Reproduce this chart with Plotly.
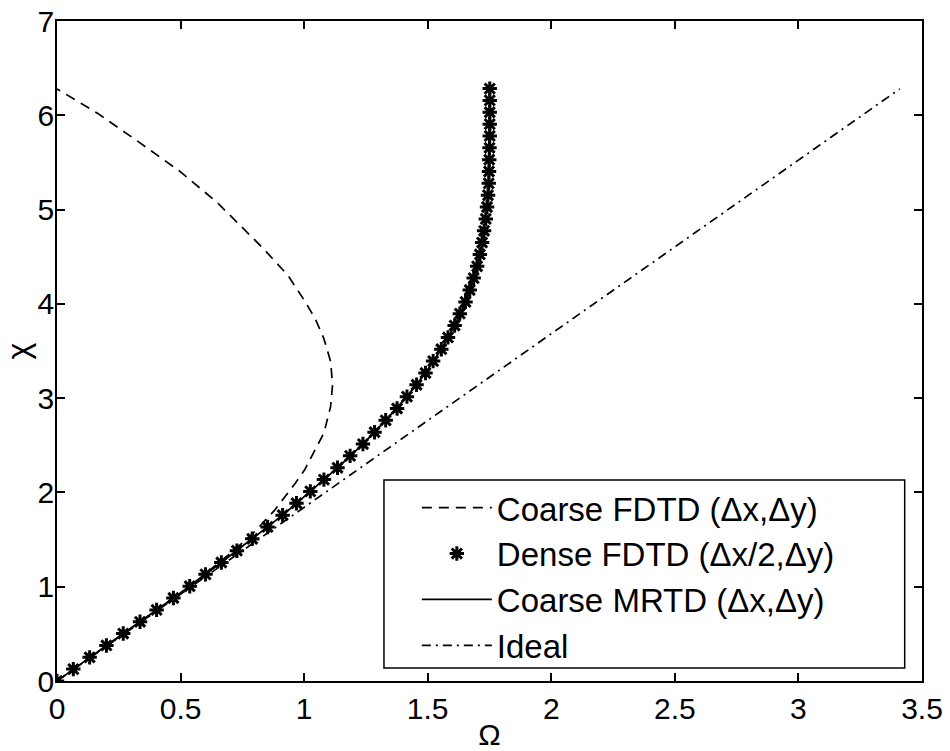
import plotly.graph_objects as go

# ---- data ----
# Dense FDTD (dx/2, dy): chi sampled in 51 steps from 0 to 2*pi
dense_chi = [0.000, 0.126, 0.251, 0.377, 0.503, 0.628, 0.754, 0.880, 1.005, 1.131,
             1.257, 1.382, 1.508, 1.634, 1.759, 1.885, 2.011, 2.136, 2.262, 2.388,
             2.513, 2.639, 2.765, 2.890, 3.016, 3.142, 3.267, 3.393, 3.519, 3.644,
             3.770, 3.896, 4.021, 4.147, 4.273, 4.398, 4.524, 4.650, 4.775, 4.901,
             5.027, 5.152, 5.278, 5.404, 5.529, 5.655, 5.781, 5.906, 6.032, 6.158,
             6.283]
dense_omega = [0.000, 0.066, 0.132, 0.200, 0.268, 0.336, 0.403, 0.471, 0.537, 0.601,
               0.665, 0.728, 0.790, 0.852, 0.913, 0.969, 1.025, 1.080, 1.135, 1.186,
               1.238, 1.285, 1.330, 1.376, 1.416, 1.455, 1.491, 1.522, 1.555, 1.582,
               1.609, 1.630, 1.653, 1.670, 1.686, 1.700, 1.711, 1.720, 1.728, 1.735,
               1.740, 1.744, 1.747, 1.748, 1.749, 1.750, 1.751, 1.751, 1.751, 1.751,
               1.751]

# Coarse MRTD (dx, dy): runs through the dense FDTD points
mrtd_chi = [0.000, 0.251, 0.503, 0.754, 1.005, 1.257, 1.508, 1.759, 2.011, 2.262,
            2.513, 2.765, 3.016, 3.267, 3.519, 3.770, 4.021, 4.273, 4.524, 4.775,
            5.027, 5.278, 5.529, 5.781, 6.032, 6.283]
mrtd_omega = [0.000, 0.132, 0.268, 0.403, 0.537, 0.665, 0.790, 0.913, 1.025, 1.135,
              1.238, 1.330, 1.416, 1.491, 1.555, 1.609, 1.653, 1.686, 1.711, 1.728,
              1.740, 1.747, 1.749, 1.751, 1.751, 1.751]

# Coarse FDTD (dx, dy)
fdtd_chi = [0.00, 0.50, 1.00, 1.35, 1.57, 1.81, 2.10, 2.24, 2.45, 2.63, 2.91, 3.14,
            3.39, 3.63, 3.83, 4.02, 4.30, 4.60, 5.07, 5.40, 5.70, 6.02, 6.28]
fdtd_omega = [0.000, 0.268, 0.535, 0.700, 0.795, 0.880, 0.965, 1.002, 1.045, 1.080,
              1.107, 1.115, 1.107, 1.080, 1.047, 1.005, 0.935, 0.830, 0.650, 0.500,
              0.340, 0.165, 0.000]

# Ideal
ideal_chi = [0.0, 6.28]
ideal_omega = [0.0, 3.41]

x_ticks = [0, 0.5, 1, 1.5, 2, 2.5, 3, 3.5]
x_ticktext = ["0", "0.5", "1", "1.5", "2", "2.5", "3", "3.5"]
y_ticks = [0, 1, 2, 3, 4, 5, 6, 7]

FONT = "Liberation Sans, Arial, Helvetica, sans-serif"

fig = go.Figure()
fig.add_trace(go.Scatter(x=fdtd_omega, y=fdtd_chi, mode="lines",
                         name="Coarse FDTD (Δx,Δy)",
                         line=dict(color="black", width=1.7, dash="10px,7px")))
fig.add_trace(go.Scatter(x=dense_omega, y=dense_chi, mode="markers",
                         name="Dense FDTD (Δx/2,Δy)",
                         marker=dict(symbol="asterisk-open", size=12, color="black",
                                     line=dict(color="black", width=3))))
fig.add_trace(go.Scatter(x=mrtd_omega, y=mrtd_chi, mode="lines",
                         name="Coarse MRTD (Δx,Δy)",
                         line=dict(color="black", width=1.8)))
fig.add_trace(go.Scatter(x=ideal_omega, y=ideal_chi, mode="lines",
                         name="Ideal",
                         line=dict(color="black", width=1.7, dash="9px,5px,2px,5px")))

axis_common = dict(showline=True, linecolor="black", linewidth=1.6, mirror="ticks",
                   ticks="inside", ticklen=8, tickwidth=1.6, tickcolor="black",
                   showgrid=False, zeroline=False,
                   tickfont=dict(family=FONT, size=30, color="black"))

fig.update_layout(
    width=950, height=751,
    margin=dict(l=57, r=28, t=21, b=70, autoexpand=False),
    paper_bgcolor="white", plot_bgcolor="white",
    font=dict(family=FONT, color="black"),
    xaxis=dict(range=[0, 3.5], tickmode="array", tickvals=x_ticks, ticktext=x_ticktext,
               title=dict(text="Ω", font=dict(family=FONT, size=30), standoff=2),
               **axis_common),
    yaxis=dict(range=[0, 7], tickmode="array", tickvals=y_ticks, ticklabelstandoff=-5,
               title=dict(text="χ", font=dict(family=FONT, size=32), standoff=2),
               **axis_common),
    showlegend=True,
    legend=dict(x=0.416, y=0.305, xanchor="left", yanchor="top",
                bgcolor="rgba(0,0,0,0)", borderwidth=0, itemwidth=70,
                font=dict(family=FONT, size=33, color="black"),
                tracegroupgap=0),
    shapes=[dict(type="rect", xref="paper", yref="paper",
                 x0=0.378, x1=0.980, y0=0.0197, y1=0.3045,
                 line=dict(color="black", width=1.5), fillcolor="white", layer="below")],
)

fig.write_html("out.html")
